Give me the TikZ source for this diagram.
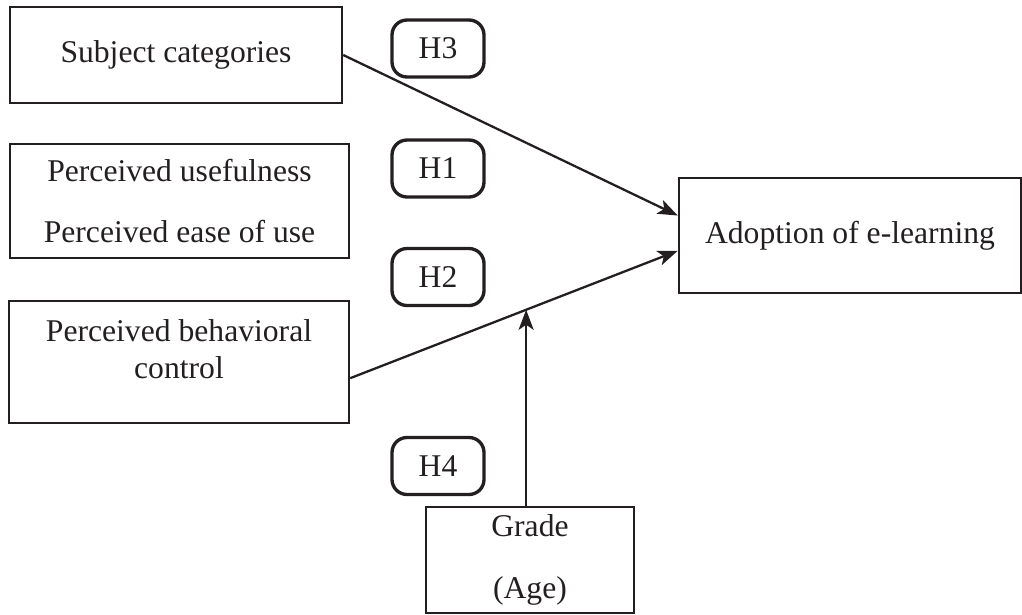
\documentclass[tikz,border=0pt]{standalone}
\usepackage{fontspec}
\setmainfont{Liberation Serif}
\usepackage{xcolor}
\usetikzlibrary{arrows.meta,positioning,calc}
\definecolor{ink}{HTML}{231F20}

\begin{document}
\begin{tikzpicture}[x=0.2mm,y=-0.2mm,font=\fontsize{18}{21}\selectfont,text=ink,
  box/.style={draw=ink,line width=1.4pt,align=center,inner sep=0pt},
  hyp/.style={draw=ink,line width=1.9pt,rounded corners=3mm,minimum width=18.4mm,minimum height=11.4mm,inner sep=0pt},
  link/.style={draw=ink,line width=1.3pt,-{Stealth[length=4mm,width=3mm,inset=1mm]}}]
\useasboundingbox (0,0) rectangle (1022,614);
\node[box,minimum width=66.4mm,minimum height=19.2mm] (sub) at (176,55) {Subject categories};
\node[box,minimum width=67.8mm,minimum height=22.8mm] (peou) at (179.5,201) {Perceived usefulness\\[14pt]Perceived ease of use};
\node[box,minimum width=68mm,minimum height=24.4mm] (pbc) at (179,362) {Perceived behavioral\\control\\[-6pt]};
\node[box,minimum width=68.4mm,minimum height=23mm] (adopt) at (850,235.5) {Adoption of e-learning};
\node[box,minimum width=41.6mm,minimum height=21.2mm] (grade) at (530,560) {Grade\\[14pt](Age)};
\foreach \h/\yy in {3/48.5,1/168.5,2/277,4/466}
  \node[hyp] (h\h) at (438,\yy) {H\h};
% paths into adoption
\draw[link] (sub.east) -- ($(adopt.north west)!0.33!(adopt.south west)$);
\draw[link] ($(pbc.north east)!0.63!(pbc.south east)$) -- coordinate[pos=0.537] (mod) ($(adopt.north west)!0.63!(adopt.south west)$);
\draw[link] (mod |- grade.north) -- (mod);
\end{tikzpicture}
\end{document}
